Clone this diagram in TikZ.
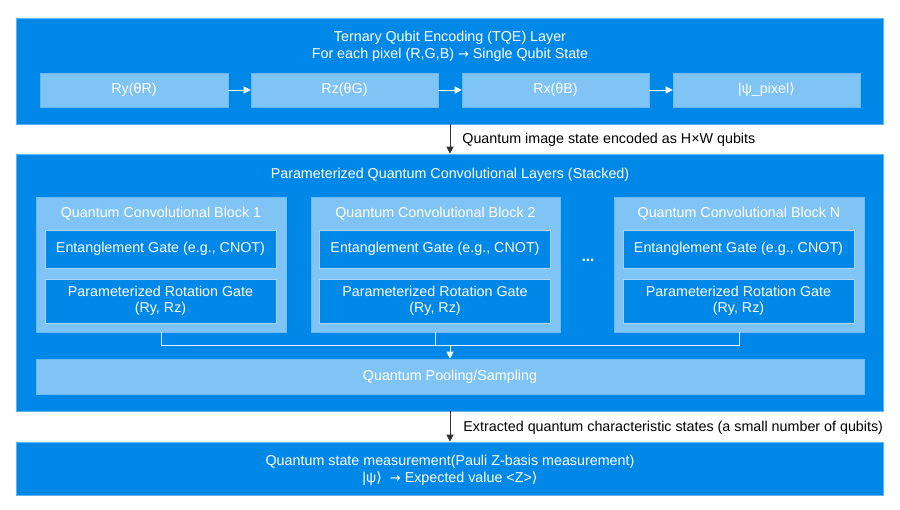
\documentclass[tikz,border=0pt]{standalone}
\usepackage{fontspec}
\setmainfont{Liberation Sans}
\newfontfamily\dvs{DejaVu Sans}
\usetikzlibrary{arrows.meta}
\definecolor{mainblue}{HTML}{0088E8}
\definecolor{lightblue}{HTML}{80C4F5}
\definecolor{edgeblue}{HTML}{5EB3F0}
\definecolor{darkarrow}{HTML}{333333}
\newcommand{\rang}{{\dvs ⟩}}
\newcommand{\rarr}{{\dvs\fontsize{13}{13}\selectfont →}}
\tikzset{
  bigbox/.style={draw=edgeblue, line width=0.6pt, fill=mainblue, minimum width=867pt, inner sep=0pt},
  lightbox/.style={draw=edgeblue!60!lightblue, line width=0.6pt, fill=lightblue, inner sep=0pt, text=white, font=\fontsize{14.3}{16}\selectfont},
  gatebox/.style={draw=lightblue!70!white, line width=0.6pt, fill=mainblue, inner sep=0pt, text=white, align=center, font=\fontsize{14.3}{16.5}\selectfont, minimum width=231pt},
  wtext/.style={text=white, align=center, font=\fontsize{14.3}{17}\selectfont, inner sep=0pt},
  btext/.style={text=black, font=\fontsize{14.3}{16}\selectfont, inner sep=0pt, anchor=west},
  warrow/.style={draw=white, line width=0.8pt, -{Triangle[length=7pt,width=7pt]}},
  darrow/.style={draw=darkarrow, line width=0.8pt, -{Triangle[length=7pt,width=7pt]}},
  wline/.style={draw=white!75!lightblue, line width=0.8pt}
}
\begin{document}
\begin{tikzpicture}[x=1pt,y=-1pt]
\useasboundingbox (0,0) rectangle (900,510);
% top layer
\node[bigbox, minimum height=106pt] (tqe) at (449.5,71) {};
\node[wtext] (tqet) at (450,46.5) {Ternary Qubit Encoding (TQE) Layer\\For each pixel (R,G,B) \rarr{} Single Qubit State};
\node[lightbox, minimum width=188pt, minimum height=34pt] (ry) at (134,90) {Ry(θR)};
\node[lightbox, minimum width=187pt, minimum height=34pt] (rz) at (344.5,90) {Rz(θG)};
\node[lightbox, minimum width=187pt, minimum height=34pt] (rx) at (555.5,90) {Rx(θB)};
\node[lightbox, minimum width=187pt, minimum height=34pt] (psi) at (766.5,90) {|ψ\_pixel\rang};
\draw[warrow] (ry) -- (rz);
\draw[warrow] (rz) -- (rx);
\draw[warrow] (rx) -- (psi);
% middle layer
\node[bigbox, minimum height=257pt] (pqc) at (449.5,282.5) {};
\node[wtext] (pqct) at (450,175) {Parameterized Quantum Convolutional Layers (Stacked)};
\draw[darrow] (tqe.south -| 450,0) -- (pqc.north -| 450,0) node[btext, midway, xshift=12pt, yshift=-1pt] (l1) {Quantum image state encoded as H×W qubits};
% blocks
\foreach \n/\cx/\w/\lab in {b1/161/250/1, b2/435.5/249/2, bn/739/250/N}{
  \node[lightbox, minimum width=\w pt, minimum height=135pt] (\n) at (\cx,264.5) {};
  \node[wtext] (\n t) at (\cx,214) {Quantum Convolutional Block \lab};
  \node[gatebox, minimum height=38pt] (\n e) at (\cx-0.5,249) {\raisebox{-1.5pt}{Entanglement Gate (e.g., CNOT)}};
  \node[gatebox, minimum height=44pt] (\n r) at (\cx-0.5,301) {Parameterized Rotation Gate\\(Ry, Rz)};
}
\node[wtext, font=\fontsize{15}{15}\selectfont\bfseries] (dots) at (588,260) {...};
% pooling
\node[lightbox, minimum width=828pt, minimum height=35pt] (pool) at (450,376.5) {\raisebox{-1pt}{Quantum Pooling/Sampling}};
\coordinate (j1) at (161,345);
\coordinate (j2) at (435.5,345);
\coordinate (jn) at (739,345);
\coordinate (jm) at (450,345);
\draw[wline] (b1.south -| j1) -- (j1) -- (jn) -- (bn.south -| jn);
\draw[wline] (b2.south -| j2) -- (j2);
\draw[warrow] (jm) -- (pool.north -| jm);
% bottom layer
\node[bigbox, minimum height=53pt] (meas) at (449.5,468.5) {};
\node[wtext] (meast) at (450,470) {Quantum state measurement(Pauli Z-basis measurement)\\|ψ\rang\ \ \rarr{} Expected value <Z>\rang};
\draw[darrow] (pqc.south -| 450,0) -- (meas.north -| 450,0) node[btext, midway, xshift=13pt, yshift=-1pt] (l2) {Extracted quantum characteristic states (a small number of qubits)};
\end{tikzpicture}
\end{document}
